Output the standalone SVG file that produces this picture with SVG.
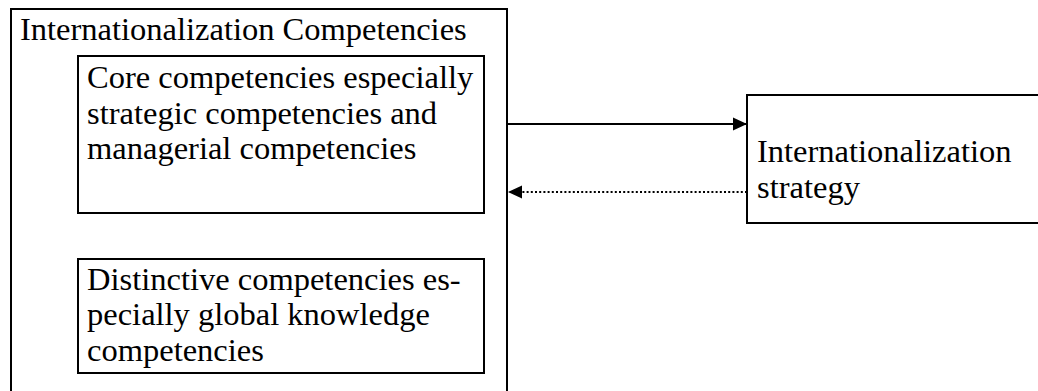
<svg xmlns="http://www.w3.org/2000/svg" width="1038" height="391" viewBox="0 0 1038 391">
  <style>
    .box { fill: #ffffff; stroke: #000000; stroke-width: 2; }
    .label { font-family: "Liberation Serif", "Times New Roman", serif; font-size: 32.5px; fill: #000000; }
    .link { fill: none; stroke: #000000; stroke-width: 2; }
    .dotted { stroke-dasharray: 2 2.2; }
  </style>
  <defs>
    <marker id="arrow" viewBox="0 0 14 14" refX="14" refY="7" markerWidth="14" markerHeight="14" markerUnits="userSpaceOnUse" orient="auto">
      <path d="M0,0.5 L14,7 L0,13.5 Z" fill="#000000"/>
    </marker>
  </defs>
  <rect width="1038" height="391" fill="#ffffff"/>

  <g id="internationalization-competencies">
    <rect class="box" x="11" y="9" width="496" height="390"/>
    <text class="label" x="20" y="40">Internationalization Competencies</text>
  </g>

  <g id="core-competencies">
    <rect class="box" x="78" y="56" width="406" height="157"/>
    <text class="label">
      <tspan x="87" y="88">Core competencies especially</tspan>
      <tspan x="87" y="123.5">strategic competencies and</tspan>
      <tspan x="87" y="159">managerial competencies</tspan>
    </text>
  </g>

  <g id="distinctive-competencies">
    <rect class="box" x="78" y="259" width="406" height="114"/>
    <text class="label">
      <tspan x="87" y="289.5">Distinctive competencies es-</tspan>
      <tspan x="87" y="325">pecially global knowledge</tspan>
      <tspan x="87" y="360.5">competencies</tspan>
    </text>
  </g>

  <g id="internationalization-strategy">
    <rect class="box" x="747" y="95" width="300" height="128"/>
    <text class="label">
      <tspan x="757" y="162">Internationalization</tspan>
      <tspan x="757" y="197.5">strategy</tspan>
    </text>
  </g>

  <g id="connectors">
    <line class="link" x1="507" y1="124" x2="747" y2="124" marker-end="url(#arrow)"/>
    <line class="link dotted" x1="747" y1="192" x2="508" y2="192" marker-end="url(#arrow)"/>
  </g>
</svg>
